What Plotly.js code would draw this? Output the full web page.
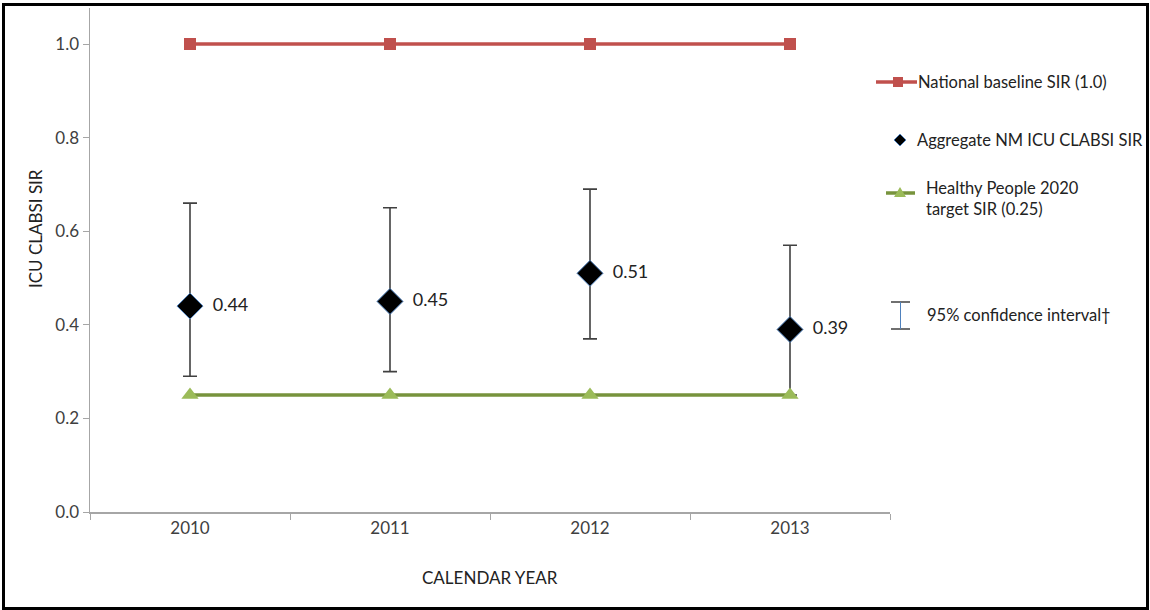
<!DOCTYPE html>
<html>
<head>
<meta charset="utf-8">
<script src="https://cdn.plot.ly/plotly-3.0.1.min.js"></script>
<style>
html,body{margin:0;padding:0;background:#fff;}
#wrap{position:relative;width:1150px;height:610px;}
#chart{width:1150px;height:610px;}
#frame{position:absolute;left:2px;top:3px;width:1141px;height:601px;border:3px solid #000;pointer-events:none;}
</style>
</head>
<body>
<div id="wrap"><div id="chart"></div><div id="frame"></div></div>
<script>
// Data
const years = ['2010', '2011', '2012', '2013'];
const baselineSIR = [1.0, 1.0, 1.0, 1.0];
const aggregateSIR = [0.44, 0.45, 0.51, 0.39];
const ciUpper = [0.66, 0.65, 0.69, 0.57];
const ciLower = [0.29, 0.30, 0.37, 0.25];
const targetSIR = [0.25, 0.25, 0.25, 0.25];
const aggregateLabels = aggregateSIR.map(v => '\u00a0\u00a0' + v.toFixed(2));
const legendLabels = ['National baseline SIR (1.0)', 'Aggregate NM ICU CLABSI SIR', 'Healthy People 2020<br>target SIR (0.25)', '95% confidence interval†'];
const xTitle = 'CALENDAR YEAR';
const yTitle = 'ICU CLABSI SIR';

const FONT = 'Lato, "Open Sans", sans-serif';
const RED = '#c0504d', GREEN = '#77933c', GREEN_M = '#9bbb59';

const traces = [
  {x: years, y: aggregateSIR, type: 'scatter', mode: 'markers+text',
   text: aggregateLabels, textposition: 'middle right',
   textfont: {family: FONT, size: 18, color: '#222'},
   marker: {symbol: 'diamond', size: 20, color: '#000', line: {color: '#4f81bd', width: 1}},
   error_y: {type: 'data', symmetric: false,
     array: ciUpper.map((u, i) => u - aggregateSIR[i]),
     arrayminus: aggregateSIR.map((v, i) => v - ciLower[i]),
     color: '#404040', thickness: 1.6, width: 7},
   hoverinfo: 'skip', showlegend: false},
  {x: years, y: baselineSIR, type: 'scatter', mode: 'lines+markers',
   line: {color: RED, width: 3.5}, marker: {symbol: 'square', size: 12, color: RED},
   hoverinfo: 'skip', showlegend: false},
  {x: years, y: targetSIR, type: 'scatter', mode: 'lines+markers',
   line: {color: GREEN, width: 3.5}, marker: {symbol: 'triangle-up', size: 15, color: GREEN_M},
   hoverinfo: 'skip', showlegend: false}
];

// legend drawn with shapes/annotations in paper coords (px -> paper helpers)
const L = 90, R = 890, T = 8, B = 512;
const px = v => (v - L) / (R - L);
const py = v => (B - v) / (B - T);
const shapes = [
  {type: 'line', xref: 'paper', yref: 'paper', x0: px(876), x1: px(917), y0: py(82), y1: py(82), line: {color: RED, width: 3.5}},
  {type: 'rect', xref: 'paper', yref: 'paper', x0: px(893), x1: px(903), y0: py(77), y1: py(87), fillcolor: RED, line: {width: 0}},
  {type: 'path', xref: 'paper', yref: 'paper', path: `M ${px(900)} ${py(134)} L ${px(906)} ${py(140)} L ${px(900)} ${py(146)} L ${px(894)} ${py(140)} Z`, fillcolor: '#000', line: {color: '#4f81bd', width: 1}},
  {type: 'line', xref: 'paper', yref: 'paper', x0: px(886), x1: px(915), y0: py(193), y1: py(193), line: {color: GREEN, width: 3.5}},
  {type: 'path', xref: 'paper', yref: 'paper', path: `M ${px(894)} ${py(197)} L ${px(906)} ${py(197)} L ${px(900)} ${py(187)} Z`, fillcolor: GREEN_M, line: {width: 0}},
  {type: 'line', xref: 'paper', yref: 'paper', x0: px(891), x1: px(910), y0: py(302), y1: py(302), line: {color: '#404040', width: 1.5}},
  {type: 'line', xref: 'paper', yref: 'paper', x0: px(891), x1: px(910), y0: py(329), y1: py(329), line: {color: '#404040', width: 1.5}},
  {type: 'line', xref: 'paper', yref: 'paper', x0: px(900.5), x1: px(900.5), y0: py(302), y1: py(329), line: {color: '#4f81bd', width: 1}}
];
const legText = (txt, x, y) => ({text: txt, xref: 'paper', yref: 'paper', x: px(x), y: py(y),
  xanchor: 'left', yanchor: 'middle', align: 'left', showarrow: false,
  font: {family: FONT, size: 16.5, color: '#222'}});
const annotations = [
  legText(legendLabels[0], 916, 82),
  legText(legendLabels[1], 915, 140),
  legText(legendLabels[2], 924, 198),
  legText(legendLabels[3], 925, 315),
  {text: xTitle, xref: 'paper', yref: 'paper', x: 0.5, y: py(577), xanchor: 'center', yanchor: 'middle',
   showarrow: false, font: {family: FONT, size: 17, color: '#222'}},
  {text: yTitle, xref: 'paper', yref: 'paper', x: px(35), y: py(228), xanchor: 'center', yanchor: 'middle',
   textangle: -90, showarrow: false, font: {family: FONT, size: 17, color: '#222'}}
];

const layout = {
  width: 1150, height: 610,
  margin: {l: L, r: 1150 - R, t: T, b: 610 - B},
  paper_bgcolor: '#fff', plot_bgcolor: '#fff',
  font: {family: FONT, color: '#404040'},
  showlegend: false,
  xaxis: {type: 'category', categoryorder: 'array', categoryarray: years,
    range: [-0.5, 3.5], tickson: 'boundaries', ticks: 'outside', ticklen: 6, tickcolor: '#a6a6a6',
    showline: true, linecolor: '#a6a6a6', linewidth: 1.5, showgrid: false, zeroline: false,
    tickfont: {family: FONT, size: 17, color: '#404040'}},
  yaxis: {range: [0, (B - T) / (B - 44)], tickvals: [0, 0.2, 0.4, 0.6, 0.8, 1.0], tickformat: '.1f',
    ticks: 'outside', ticklen: 6, tickcolor: '#a6a6a6',
    showline: true, linecolor: '#a6a6a6', linewidth: 1.5, showgrid: false, zeroline: false,
    tickfont: {family: FONT, size: 17, color: '#404040'}},
  shapes: shapes,
  annotations: annotations
};

Plotly.newPlot('chart', traces, layout, {displayModeBar: false, staticPlot: true});
</script>
</body>
</html>
